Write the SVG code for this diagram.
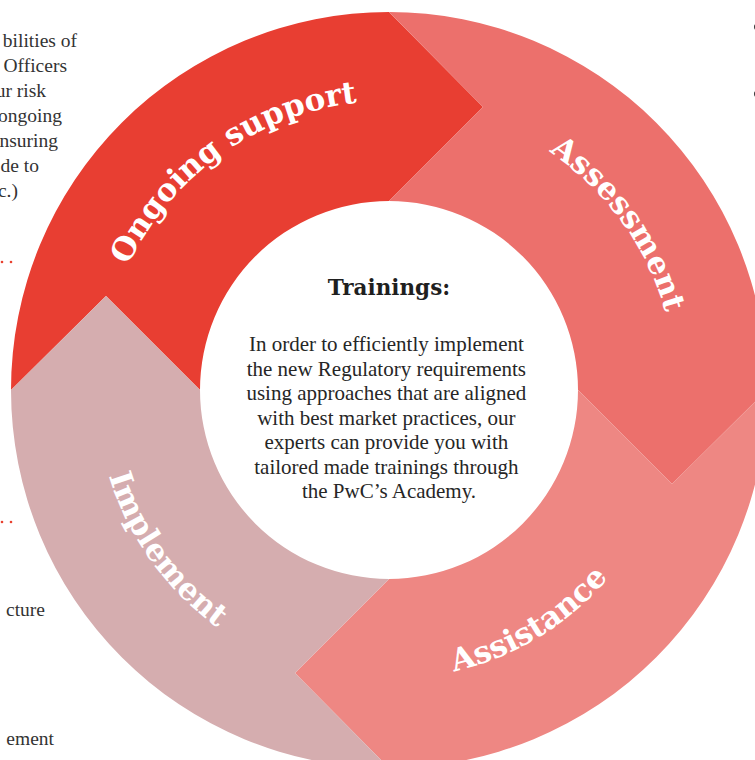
<svg xmlns="http://www.w3.org/2000/svg" width="755" height="760" viewBox="0 0 755 760">
  <defs>
    <style>
      .side { font-family: "Liberation Serif", "Times New Roman", serif; font-size: 19.5px; fill: #333333; }
      .label { font-family: "DejaVu Serif", "Liberation Serif", serif; font-weight: bold; font-size: 31px; fill: #ffffff; }
      .title { font-family: "DejaVu Serif", "Liberation Serif", serif; font-weight: bold; font-size: 21.5px; fill: #1f1f1f; }
      .body { font-family: "Liberation Serif", "Times New Roman", serif; font-size: 21px; fill: #262626; }
      .dot { fill: #e8412f; }
    </style>
    <!-- baselines for the curved segment labels (ring centre 389,390) -->
    <path id="arc-ongoing" d="M101.3,417.2 A289,289 0 0 1 509.3,127.2"/>
    <path id="arc-assessment" d="M359.5,104.5 A287,287 0 0 1 651.0,507.2"/>
    <path id="arc-assistance" d="M249.8,643.3 A289,289 0 0 0 677.9,383.9"/>
    <path id="arc-implement" d="M122.2,269.0 A293,293 0 0 0 417.6,681.6"/>
  </defs>

  <rect width="755" height="760" fill="#ffffff"/>

  <!-- surrounding page text, cut by the frame -->
  <g id="page-text">
    <text class="side" text-anchor="end" x="77" y="47">bilities of</text>
    <text class="side" text-anchor="end" x="67" y="72">Officers</text>
    <text class="side" text-anchor="end" x="46" y="97">ur risk</text>
    <text class="side" text-anchor="end" x="62" y="122">ongoing</text>
    <text class="side" text-anchor="end" x="58" y="147">nsuring</text>
    <text class="side" text-anchor="end" x="39" y="172">de to</text>
    <text class="side" text-anchor="end" x="18" y="197">c.)</text>
    <text class="side" text-anchor="end" x="45" y="616">cture</text>
    <text class="side" text-anchor="end" x="54" y="745">ement</text>
    <circle class="dot" cx="2" cy="262" r="1.3"/>
    <circle class="dot" cx="11" cy="262" r="1.3"/>
    <circle class="dot" cx="2" cy="522" r="1.3"/>
    <circle class="dot" cx="11" cy="522" r="1.3"/>
    <circle cx="757.5" cy="27" r="3.5" fill="#333333"/>
    <circle cx="757.5" cy="94" r="3.5" fill="#333333"/>
  </g>

  <!-- ring segments: each ends in a chevron pointing clockwise into the next -->
  <g id="ongoing-support">
    <path fill="#e83e32" d="M11,390 A378,378 0 0 1 389,12 L483,107 L389,201 A189,189 0 0 0 200,390 L106,296 Z"/>
    <text class="label"><textPath href="#arc-ongoing" startOffset="50%" text-anchor="middle">Ongoing support</textPath></text>
  </g>
  <g id="assessment">
    <path fill="#ec706c" d="M389,12 A378,378 0 0 1 767,390 L672,484 L578,390 A189,189 0 0 0 389,201 L483,107 Z"/>
    <text class="label"><textPath href="#arc-assessment" startOffset="50%" text-anchor="middle">Assessment</textPath></text>
  </g>
  <g id="assistance">
    <path fill="#ee8783" d="M767,390 A378,378 0 0 1 389,768 L295,673 L389,579 A189,189 0 0 0 578,390 L672,484 Z"/>
    <text class="label"><textPath href="#arc-assistance" startOffset="50%" text-anchor="middle">Assistance</textPath></text>
  </g>
  <g id="implement">
    <path fill="#d5adaf" d="M389,768 A378,378 0 0 1 11,390 L106,296 L200,390 A189,189 0 0 0 389,579 L295,673 Z"/>
    <text class="label"><textPath href="#arc-implement" startOffset="50%" text-anchor="middle">Implement</textPath></text>
  </g>

  <!-- centre: trainings -->
  <g id="trainings">
    <text class="title" x="389" y="295" text-anchor="middle">Trainings:</text>
    <text class="body" text-anchor="middle">
      <tspan x="389" y="351">In order to efficiently implement</tspan>
      <tspan x="389" y="375.5">the new Regulatory requirements</tspan>
      <tspan x="389" y="400">using approaches that are aligned</tspan>
      <tspan x="389" y="424.5">with best market practices, our</tspan>
      <tspan x="389" y="449">experts can provide you with</tspan>
      <tspan x="389" y="473.5">tailored made trainings through</tspan>
      <tspan x="389" y="498">the PwC’s Academy.</tspan>
    </text>
  </g>
</svg>
